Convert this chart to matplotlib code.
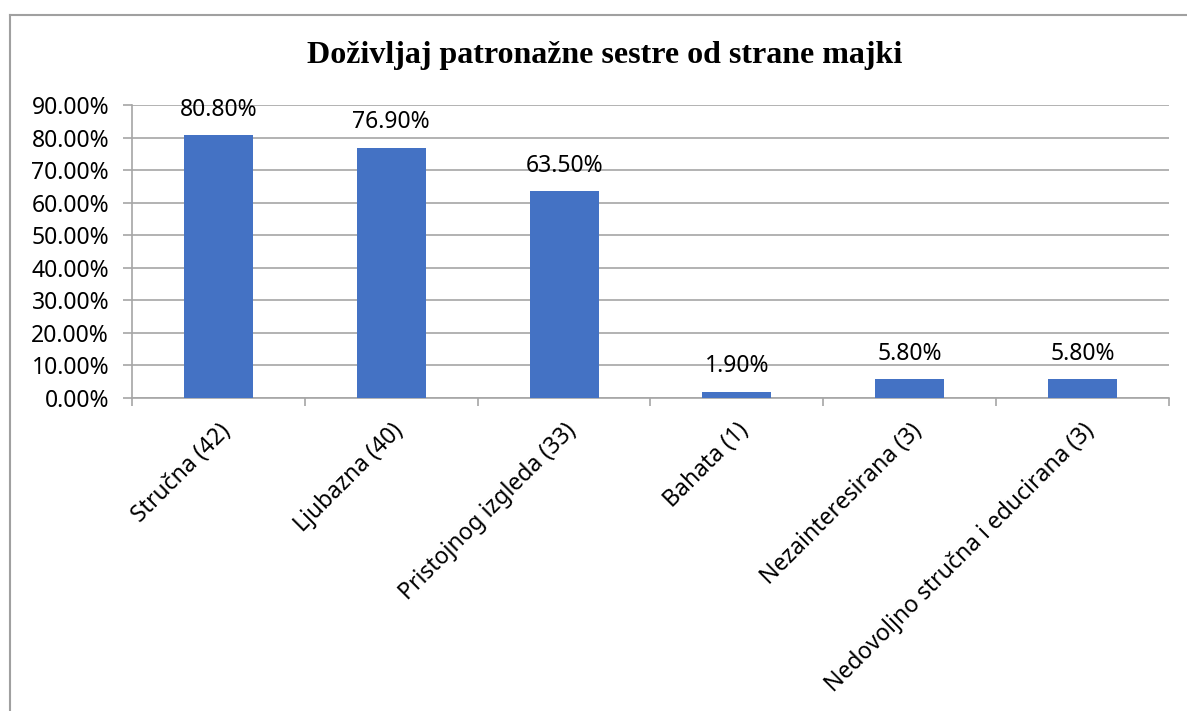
import numpy as np
import matplotlib.pyplot as plt
from matplotlib.lines import Line2D

categories = ["Stručna (42)", "Ljubazna (40)", "Pristojnog izgleda (33)", "Bahata (1)",
              "Nezainteresirana (3)", "Nedovoljno stručna i educirana (3)"]
values = [80.8, 76.9, 63.5, 1.9, 5.8, 5.8]
yticks = [0, 10, 20, 30, 40, 50, 60, 70, 80, 90]
title = "Doživljaj patronažne sestre od strane majki"

plt.rcParams["font.family"] = ["Noto Sans", "DejaVu Sans"]

W, H = 1187, 711
fig = plt.figure(figsize=(W / 100, H / 100), dpi=100)
ax = fig.add_axes([132 / W, 1 - 398 / H, (1169 - 132) / W, (398 - 105) / H])

x = np.arange(len(categories))
ax.bar(x, values, width=0.4, color="#4472C4", zorder=3)

for xi, v in zip(x, values):
    ax.annotate(f"{v:.2f}%", (xi, v), xytext=(0, 14), textcoords="offset points",
                ha="center", va="baseline", fontsize=16.5, color="black")

ax.set_xlim(-0.5, len(categories) - 0.5)
ax.set_ylim(0, 90)
ax.set_yticks(yticks)
ax.set_yticklabels([f"{t:.2f}%" for t in yticks], fontsize=16.5)
ax.yaxis.grid(True, color="#a6a6a6", linewidth=1.2, zorder=0)

ax.set_xticks(x)
ax.set_xticklabels(categories, fontsize=16.5, rotation=45, ha="right",
                   rotation_mode="anchor", va="top")
ax.set_xticks(np.arange(-0.5, len(categories)), minor=True)
ax.tick_params(axis="x", which="major", length=0, pad=15)
ax.tick_params(axis="x", which="minor", length=6, color="#a6a6a6", width=1.2)
ax.tick_params(axis="y", length=6.5, color="#a6a6a6", width=1.2, pad=10)

for s in ["top", "right"]:
    ax.spines[s].set_visible(False)
for s in ["left", "bottom"]:
    ax.spines[s].set_color("#a6a6a6")
    ax.spines[s].set_linewidth(1.2)

fig.text(605 / W, 1 - 55 / H, title, ha="center", va="center", fontsize=23,
         fontweight="bold", family="Liberation Serif")

# chart border
fig.add_artist(Line2D([10 / W, 10 / W], [0, 1 - 15 / H], color="#a0a0a0", linewidth=1.5,
                      transform=fig.transFigure))
fig.add_artist(Line2D([10 / W, 1], [1 - 15 / H, 1 - 15 / H], color="#a0a0a0", linewidth=1.5,
                      transform=fig.transFigure))

fig.savefig("out.png", dpi=100)
